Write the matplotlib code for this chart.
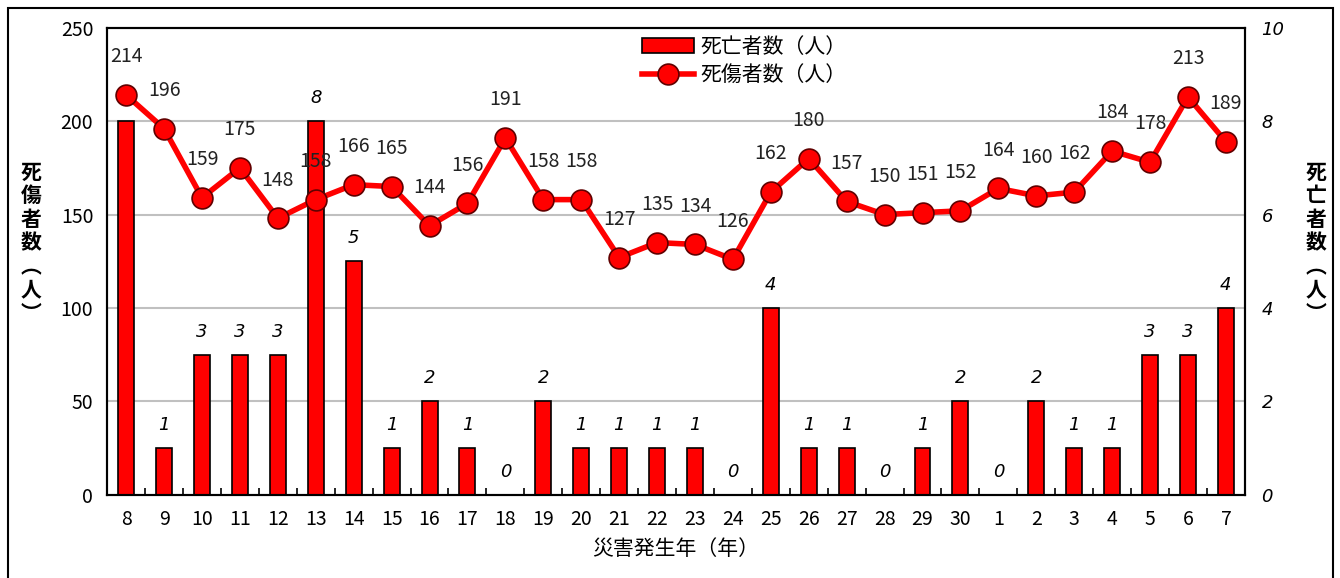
import matplotlib.pyplot as plt
from matplotlib.patches import Rectangle
import numpy as np

plt.rcParams['font.family'] = ['Noto Sans CJK JP', 'DejaVu Sans']

years = ['8', '9', '10', '11', '12', '13', '14', '15', '16', '17', '18', '19', '20',
         '21', '22', '23', '24', '25', '26', '27', '28', '29', '30',
         '1', '2', '3', '4', '5', '6', '7']
deaths = [8, 1, 3, 3, 3, 8, 5, 1, 2, 1, 0, 2, 1, 1, 1, 1, 0, 4, 1, 1, 0, 1, 2,
          0, 2, 1, 1, 3, 3, 4]
casualties = [214, 196, 159, 175, 148, 158, 166, 165, 144, 156, 191, 158, 158,
              127, 135, 134, 126, 162, 180, 157, 150, 151, 152,
              164, 160, 162, 184, 178, 213, 189]

x = np.arange(len(years))

fig = plt.figure(figsize=(13.4, 5.78), dpi=100)
ax = fig.add_axes([0.080, 0.144, 0.849, 0.808])
ax2 = ax.twinx()

# outer frame of the figure
fig.patches.append(Rectangle((0.006, -0.01), 0.989, 0.996, transform=fig.transFigure,
                             fill=False, edgecolor='black', linewidth=1.5))

# bars (deaths) on right axis
ax2.bar(x, deaths, width=0.42, color='#ff0000', edgecolor='black', linewidth=1.2,
        label='死亡者数（人）', zorder=2)
for xi, d in zip(x, deaths):
    ax2.annotate(str(d), (xi, d), xytext=(0, 10), textcoords='offset points',
                 ha='center', va='bottom', fontsize=13, style='italic',
                 family='DejaVu Sans', zorder=6)

# line (casualties) on left axis
ax.set_zorder(ax2.get_zorder() + 1)
ax.patch.set_visible(False)
ax.plot(x, casualties, color='#ff0000', linewidth=4, marker='o', markersize=15,
        markerfacecolor='#ff0000', markeredgecolor='#600000', markeredgewidth=1.2,
        label='死傷者数（人）', zorder=4)
for xi, c in zip(x, casualties):
    ax.annotate(str(c), (xi, c), xytext=(0, 20), textcoords='offset points',
                ha='center', va='bottom', fontsize=14, color='#222222')

ax.set_xlim(-0.5, len(years) - 0.5)
ax.set_ylim(0, 250)
ax2.set_ylim(0, 10)
ax.set_yticks([0, 50, 100, 150, 200, 250])
ax2.set_yticks([0, 2, 4, 6, 8, 10])
ax2.set_yticklabels([str(v) for v in [0, 2, 4, 6, 8, 10]], style='italic',
                    family='DejaVu Sans')
ax2.grid(False)
ax.grid(False)
for v in [50, 100, 150, 200]:
    ax2.axhline(v / 25, color='#c0c0c0', linewidth=1.5, zorder=0)

ax.set_xticks(x)
ax.set_xticklabels(years)
ax.set_xticks(x[:-1] + 0.5, minor=True)
ax.tick_params(axis='x', which='major', length=0, labelsize=14, pad=10)
ax.tick_params(axis='x', which='minor', direction='in', length=5, width=1.2)
ax.tick_params(axis='y', length=0, labelsize=14, pad=10)
ax2.tick_params(axis='y', length=0, labelsize=13, pad=12)

for a in (ax, ax2):
    for s in a.spines.values():
        s.set_linewidth(1.5)

ax.set_xlabel('災害発生年（年）', fontsize=15, labelpad=6)

# vertical stacked axis titles
fig.text(0.023, 0.58, '死\n傷\n者\n数\n︵\n人\n︶', ha='center', va='center',
         fontsize=15, fontweight='bold', linespacing=1.15)
fig.text(0.982, 0.58, '死\n亡\n者\n数\n︵\n人\n︶', ha='center', va='center',
         fontsize=15, fontweight='bold', linespacing=1.15)

h1, l1 = ax2.get_legend_handles_labels()
h2, l2 = ax.get_legend_handles_labels()
leg = ax.legend(h1 + h2, l1 + l2, loc='upper center', bbox_to_anchor=(0.56, 1.01),
                frameon=False, fontsize=15, handlelength=2.5, borderaxespad=0.2,
                labelspacing=0.3, handletextpad=0.3)
leg.get_texts()[0].set_style('italic')

fig.savefig('out.png', dpi=100)
